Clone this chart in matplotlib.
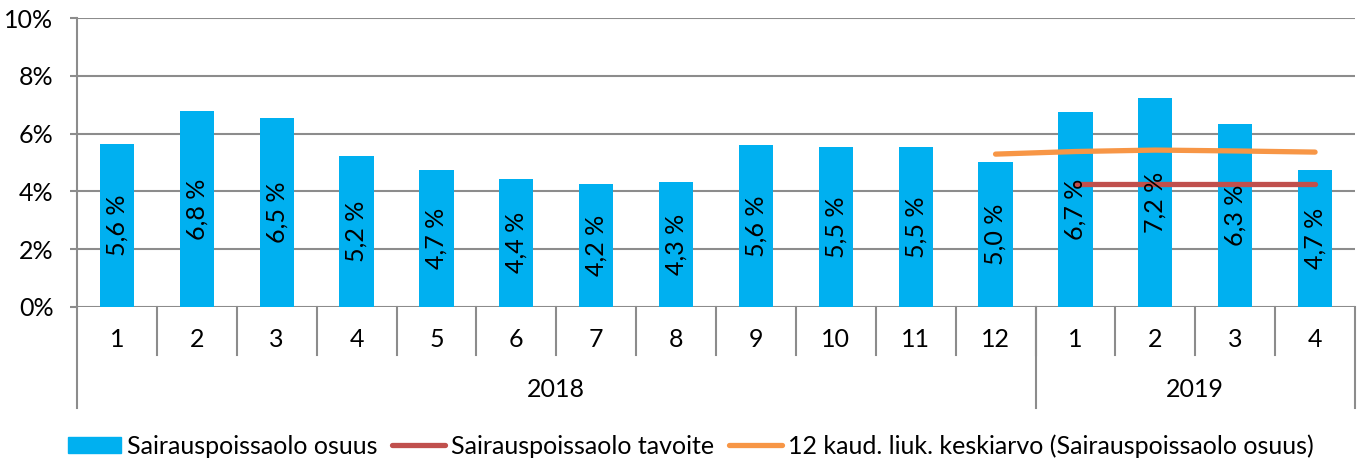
import matplotlib
matplotlib.use('Agg')
import matplotlib.pyplot as plt
from matplotlib.lines import Line2D
from matplotlib.patches import Patch

plt.rcParams['font.family'] = ['Lato', 'DejaVu Sans']

months = ['1', '2', '3', '4', '5', '6', '7', '8', '9', '10', '11', '12', '1', '2', '3', '4']
years = ['2018', '2019']
year_counts = [12, 4]
osuus = [5.64, 6.79, 6.54, 5.21, 4.73, 4.44, 4.24, 4.33, 5.59, 5.53, 5.53, 5.02,
         6.74, 7.24, 6.32, 4.74]
# target line (from 2019/1) and 12-month rolling average (from 2018/12)
tavoite = [None] * 12 + [4.25, 4.25, 4.25, 4.25]
keskiarvo = [None] * 11 + [5.29, 5.38, 5.43, 5.40, 5.36]

GRID = '#8c8c8c'
FS = 18

fig = plt.figure(figsize=(13.6, 4.61), dpi=100)
ax = fig.add_axes([77 / 1360, 154 / 461, 1278 / 1360, 289 / 461])

x = list(range(len(months)))
ax.bar(x, osuus, width=0.43, color='#00B0F0', zorder=3)
for xi, v in zip(x, osuus):
    ax.text(xi, v / 2, '{:.1f} %'.format(v).replace('.', ','), rotation=90,
            ha='center', va='center', fontsize=FS, zorder=5)

tx = [i for i, v in zip(x, tavoite) if v is not None]
ty = [v for v in tavoite if v is not None]
ax.plot(tx, ty, color='#C0504D', lw=3.8, solid_capstyle='round', zorder=4)
kx = [i for i, v in zip(x, keskiarvo) if v is not None]
ky = [v for v in keskiarvo if v is not None]
ax.plot(kx, ky, color='#F79646', lw=3.8, solid_capstyle='round', zorder=4)

ax.set_xlim(-0.5, len(months) - 0.5)
ax.set_ylim(0, 10)
ax.set_yticks(range(0, 11, 2))
ax.set_yticklabels(['{}%'.format(v) for v in range(0, 11, 2)], fontsize=FS)
ax.yaxis.grid(True, color=GRID, lw=1.5, zorder=0)
ax.tick_params(axis='y', length=5, width=1.5, color=GRID, pad=12)
ax.set_xticks([])
for s in ['top', 'right', 'bottom']:
    ax.spines[s].set_visible(False)
ax.spines['left'].set_color(GRID)
ax.spines['left'].set_linewidth(1.5)

# two-level category axis
tr = ax.get_xaxis_transform()
for i, m in enumerate(months):
    ax.text(i, -0.114, m, ha='center', va='center', fontsize=FS, transform=tr)
for i in range(1, len(months)):
    ax.add_line(Line2D([i - 0.5, i - 0.5], [0, -0.166], transform=tr, color=GRID,
                       lw=1.5, clip_on=False))
start = 0
bounds = [-0.5]
for yr, n in zip(years, year_counts):
    ax.text(start + (n - 1) / 2, -0.287, yr, ha='center', va='center',
            fontsize=FS, transform=tr)
    start += n
    bounds.append(start - 0.5)
for b in bounds:
    ax.add_line(Line2D([b, b], [0, -0.349], transform=tr, color=GRID,
                       lw=1.5, clip_on=False))

handles = [Patch(color='#00B0F0'),
           Line2D([], [], color='#C0504D', lw=3.8, solid_capstyle='round'),
           Line2D([], [], color='#F79646', lw=3.8, solid_capstyle='round')]
labels = ['Sairauspoissaolo osuus', 'Sairauspoissaolo tavoite',
          '12 kaud. liuk. keskiarvo (Sairauspoissaolo osuus)']
fig.legend(handles, labels, loc='center', bbox_to_anchor=(0.508, 15 / 461),
           ncol=3, frameon=False, fontsize=FS, handlelength=2.1,
           handletextpad=0.25, columnspacing=0.6, handleheight=0.64,
           borderpad=0, borderaxespad=0)

fig.savefig('out.png', dpi=100)
